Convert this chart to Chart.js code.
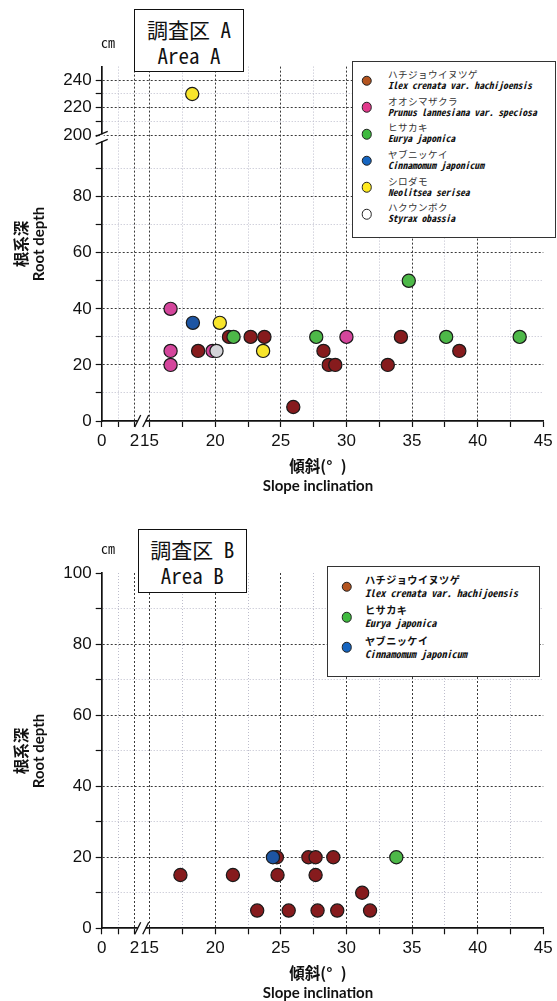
<!DOCTYPE html>
<html><head><meta charset="utf-8">
<script src="https://cdn.jsdelivr.net/npm/chart.js@4.4.0/dist/chart.umd.min.js"></script>
<style>
html,body{margin:0;padding:0;background:#fff;}
#wrap{position:relative;width:557px;height:1001px;overflow:hidden;background:#fff;}
canvas{position:absolute;left:0;}
.abs{position:absolute;white-space:nowrap;transform:translate(-50%,-50%);color:#111;}
.box{position:absolute;background:#fff;box-sizing:border-box;}
.mono{font-family:'Noto Sans Mono CJK JP','Noto Sans CJK JP',monospace;}
.ttl{font-size:21px;font-weight:500;}
.cm{font-size:14px;font-weight:500;}
.xt1{font-family:'Noto Sans CJK JP',sans-serif;font-size:15.5px;font-weight:700;}
.xt2{font-family:Lato,'Open Sans',sans-serif;font-size:15px;font-weight:700;}
.rot{transform:translate(-50%,-50%) rotate(-90deg);}
.lg{position:absolute;white-space:nowrap;transform:translateY(-50%);color:#111;}
.mk{position:absolute;border-radius:50%;box-sizing:border-box;border:1.3px solid #222;transform:translate(-50%,-50%);}
.deg{display:inline-block;width:0.95em;text-align:left;}
</style>
</head><body>
<div id="wrap">
  <canvas id="cA" width="557" height="500" style="top:0"></canvas>
  <canvas id="cB" width="557" height="501" style="top:500px"></canvas>
</div>
<script>
// ---------- data ----------
const speciesJP = ['ハチジョウイヌツゲ','オオシマザクラ','ヒサカキ','ヤブニッケイ','シロダモ','ハクウンボク'];
const speciesLatin = ['Ilex crenata var. hachijoensis','Prunus lannesiana var. speciosa','Eurya japonica','Cinnamomum japonicum','Neolitsea serisea','Styrax obassia'];

// Area A  (slope in degrees, root depth in cm)
const slopeA_ilex   = [18.7, 21.05, 22.7, 23.75, 25.95, 28.25, 28.65, 29.15, 33.15, 34.15, 38.6];
const depthA_ilex   = [25, 30, 30, 30, 5, 25, 20, 20, 20, 30, 25];
const slopeA_prunus = [16.6, 16.6, 16.6, 19.8, 30.0];
const depthA_prunus = [40, 25, 20, 25, 30];
const slopeA_eurya  = [21.4, 27.7, 34.75, 37.6, 43.2];
const depthA_eurya  = [30, 30, 50, 30, 30];
const slopeA_cinna  = [18.3];
const depthA_cinna  = [35];
const slopeA_neol   = [18.25, 20.35, 23.65];
const depthA_neol   = [230, 35, 25];
const slopeA_styrax = [20.1];
const depthA_styrax = [25];

// Area B
const slopeB_ilex  = [24.7, 27.1, 27.65, 29.0, 17.35, 21.35, 24.75, 27.65, 31.2, 23.2, 25.6, 27.8, 29.3, 31.8];
const depthB_ilex  = [20, 20, 20, 20, 15, 15, 15, 15, 10, 5, 5, 5, 5, 5];
const slopeB_eurya = [33.8];
const depthB_eurya = [20];
const slopeB_cinna = [24.4];
const depthB_cinna = [20];

// ticks
const xTicksLeft  = [0, 1, 2];
const xTicksRight = [15, 17.5, 20, 22.5, 25, 27.5, 30, 32.5, 35, 37.5, 40, 42.5, 45];
const xLabelled   = [0, 2, 15, 20, 25, 30, 35, 40, 45];
const yTicksA_low  = [0, 10, 20, 30, 40, 50, 60, 70, 80, 90];
const yTicksA_high = [200, 210, 220, 230, 240];
const yLabelledA   = [0, 20, 40, 60, 80, 200, 220, 240];
const yTicksB      = [0, 10, 20, 30, 40, 50, 60, 70, 80, 90, 100];
const yLabelledB   = [0, 20, 40, 60, 80, 100];
const xRangeLeft = [0, 2.45], xRangeRight = [14.4, 45];
const yRangeA_low = [0, 101], yRangeA_high = [198, 250], yRangeB = [0, 100];

// ---------- styles ----------
const plotColors = ['#861B1D', '#D4469C', '#4DB848', '#1D55A3', '#F8E52B', '#D3D3D8'];
const legendColors = ['#B4541F', '#E23A8C', '#3FBA3F', '#1565C0', '#FFEA1F', '#FFFFFF'];
const tickFont = {family: "'Liberation Sans Narrow','Liberation Sans',sans-serif", size: 17};

function scaleCommon(ticksList, labelled, noGridVals, axis) {
  const isMajor = v => labelled.includes(v);
  return {
    type: 'linear', axis: axis,
    afterBuildTicks: s => { s.ticks = ticksList.map(v => ({value: v})); },
    ticks: {
      autoSkip: false, maxRotation: 0, minRotation: 0, padding: 4,
      color: '#111', font: tickFont,
      callback: v => isMajor(v) ? String(v) : ''
    },
    grid: {
      drawTicks: true, tickLength: 6, tickColor: '#111', tickWidth: 1.2, lineWidth: 1,
      color: c => {
        const v = c.tick ? c.tick.value : null;
        if (v === null || noGridVals.includes(v)) return 'rgba(0,0,0,0)';
        return isMajor(v) ? '#3a3a3a' : '#bdbdcc';
      }
    },
    border: {
      display: true, color: '#111', width: 1.7,
      dash: c => c.tick ? (isMajor(c.tick.value) ? [2, 2] : [1, 2]) : []
    }
  };
}

function xScales() {
  return {
    x1: Object.assign(scaleCommon(xTicksLeft, xLabelled, [0], 'x'), {
      position: 'bottom', stack: 'xs', stackWeight: 40, min: xRangeLeft[0], max: xRangeLeft[1],
      afterFit: s => { s.height = 40; }
    }),
    x2: Object.assign(scaleCommon(xTicksRight, xLabelled, [45], 'x'), {
      position: 'bottom', stack: 'xs', stackWeight: 401.6, min: xRangeRight[0], max: xRangeRight[1],
      afterFit: s => { s.height = 40; }
    })
  };
}

function ds(label, xs, ys, color, order, yAxisID) {
  return {
    label, data: xs.map((x, i) => ({x, y: ys[i]})),
    xAxisID: 'x2', yAxisID, order,
    backgroundColor: color, borderColor: '#1a1a1a', borderWidth: 1.2,
    pointRadius: 6.6, pointHoverRadius: 6.6, clip: false, showLine: false
  };
}

// split a species into lower/upper broken-axis parts
function splitDs(label, xs, ys, color, order, threshold) {
  const lo = [], hi = [];
  xs.forEach((x, i) => (ys[i] >= threshold ? hi : lo).push(i));
  const out = [ds(label, lo.map(i => xs[i]), lo.map(i => ys[i]), color, order, 'yLow')];
  if (hi.length) out.push(ds(label, hi.map(i => xs[i]), hi.map(i => ys[i]), color, order, 'yHigh'));
  return out;
}

const breakPlugin = {
  id: 'breaks',
  afterDraw(chart) {
    const ctx = chart.ctx;
    ctx.save();
    ctx.strokeStyle = '#111'; ctx.lineWidth = 1.3; ctx.fillStyle = '#fff';
    const xa = chart.scales.x1;
    const yb = chart.chartArea.bottom;
    const cx = xa.right;
    ctx.fillRect(cx - 4, yb - 2, 8, 4);
    for (const dx of [-4, 4]) {
      ctx.beginPath(); ctx.moveTo(cx + dx - 3, yb + 6); ctx.lineTo(cx + dx + 3, yb - 6); ctx.stroke();
    }
    const yh = chart.scales.yHigh;
    if (yh) {
      const ax = chart.chartArea.left, cy = yh.bottom;
      ctx.fillRect(ax - 2, cy - 3.5, 4, 7);
      for (const dy of [-4, 4]) {
        ctx.beginPath(); ctx.moveTo(ax - 6, cy + dy + 2.5); ctx.lineTo(ax + 6, cy + dy - 2.5); ctx.stroke();
      }
    }
    ctx.restore();
  }
};

const baseOpts = (scales, pad) => ({
  responsive: false, animation: false, devicePixelRatio: 1,
  layout: {padding: pad},
  plugins: {legend: {display: false}, tooltip: {enabled: false}},
  scales
});

// ---------- chart A ----------
const dataA = [].concat(
  splitDs(speciesJP[0], slopeA_ilex, depthA_ilex, plotColors[0], 6, yRangeA_high[0]),
  splitDs(speciesJP[1], slopeA_prunus, depthA_prunus, plotColors[1], 5, yRangeA_high[0]),
  splitDs(speciesJP[2], slopeA_eurya, depthA_eurya, plotColors[2], 4, yRangeA_high[0]),
  splitDs(speciesJP[3], slopeA_cinna, depthA_cinna, plotColors[3], 3, yRangeA_high[0]),
  splitDs(speciesJP[4], slopeA_neol, depthA_neol, plotColors[4], 2, yRangeA_high[0]),
  splitDs(speciesJP[5], slopeA_styrax, depthA_styrax, plotColors[5], 1, yRangeA_high[0])
);
const scalesA = Object.assign(xScales(), {
  yHigh: Object.assign(scaleCommon(yTicksA_high, yLabelledA, [], 'y'), {
    position: 'left', stack: 'ys', stackWeight: 71.2, weight: 1, min: yRangeA_high[0], max: yRangeA_high[1],
    afterFit: s => { s.width = 101.7; }
  }),
  yLow: Object.assign(scaleCommon(yTicksA_low, yLabelledA, [0], 'y'), {
    position: 'left', stack: 'ys', stackWeight: 283.2, weight: 0, min: yRangeA_low[0], max: yRangeA_low[1],
    afterFit: s => { s.width = 101.7; }
  })
});
new Chart(document.getElementById('cA'), {
  type: 'scatter', data: {datasets: dataA},
  options: baseOpts(scalesA, {left: 0, right: 13.7, top: 66.6, bottom: 39}),
  plugins: [breakPlugin]
});

// ---------- chart B ----------
const dataB = [].concat(
  splitDs(speciesJP[0], slopeB_ilex, depthB_ilex, plotColors[0], 6, Infinity),
  splitDs(speciesJP[2], slopeB_eurya, depthB_eurya, plotColors[2], 4, Infinity),
  splitDs(speciesJP[3], slopeB_cinna, depthB_cinna, plotColors[3], 3, Infinity)
);
const scalesB = Object.assign(xScales(), {
  yLow: Object.assign(scaleCommon(yTicksB, yLabelledB, [0, 100], 'y'), {
    position: 'left', min: yRangeB[0], max: yRangeB[1],
    afterFit: s => { s.width = 101.7; }
  })
});
new Chart(document.getElementById('cB'), {
  type: 'scatter', data: {datasets: dataB},
  options: baseOpts(scalesB, {left: 0, right: 13.7, top: 73, bottom: 32.7}),
  plugins: [breakPlugin]
});

// ---------- overlays (text / legend) ----------
const wrap = document.getElementById('wrap');
function el(cls, html, x, y, extra) {
  const d = document.createElement('div');
  d.className = cls; d.innerHTML = html;
  d.style.left = x + 'px'; d.style.top = y + 'px';
  if (extra) Object.assign(d.style, extra);
  wrap.appendChild(d); return d;
}
function titleBox(l, t, w, h, line1, line2) {
  el('box', '', l, t, {width: w + 'px', height: h + 'px', border: '1.6px solid #111'});
  el('abs mono ttl', line1, l + w / 2, t + 20);
  el('abs mono ttl', line2, l + w / 2, t + 46);
}
function axisTitles(cx, xy, cy) {
  el('abs xt1', '傾斜(<span class="deg">°</span>)', cx, xy);
  el('abs xt2', 'Slope inclination', cx, xy + 20);
  el('abs xt1 rot', '根系深', 20, cy);
  el('abs xt2 rot', 'Root depth', 38, cy);
}
function legend(l, t, w, h, idx, mx, my0, step, tx, jpDy, laDy, fs, jpWeight) {
  el('box', '', l, t, {width: w + 'px', height: h + 'px', border: '1.5px solid #333'});
  idx.forEach((k, i) => {
    const my = t + my0 + i * step;
    el('mk', '', l + mx, my, {width: '10.5px', height: '10.5px', background: legendColors[k]});
    el('lg mono', speciesJP[k], l + tx, my + jpDy, {fontSize: fs + 'px', fontWeight: jpWeight, letterSpacing: '0.4px', color: jpWeight > 500 ? '#111' : '#333'});
    el('lg mono', speciesLatin[k], l + tx, my + laDy, {fontSize: fs + 'px', fontWeight: 700, fontStyle: 'italic'});
  });
}

// Area A
titleBox(134, 9, 110, 63, '調査区 A', 'Area A');
el('abs mono cm', 'cm', 108, 42);
axisTitles(318, 465, 244);
legend(351.7, 60.7, 204.3, 177.3, [0, 1, 2, 3, 4, 5], 15, 20, 26.67, 36.3, -6.7, 4.3, 9.6, 400);

// Area B
titleBox(137.7, 529.3, 109, 63.4, '調査区 B', 'Area B');
el('abs mono cm', 'cm', 108, 548);
axisTitles(318, 971.7, 750.5);
legend(327.3, 565.7, 212.3, 111, [0, 2, 3], 19.4, 21, 30.3, 37.7, -7.7, 5.3, 10.2, 700);
</script>
</body></html>
